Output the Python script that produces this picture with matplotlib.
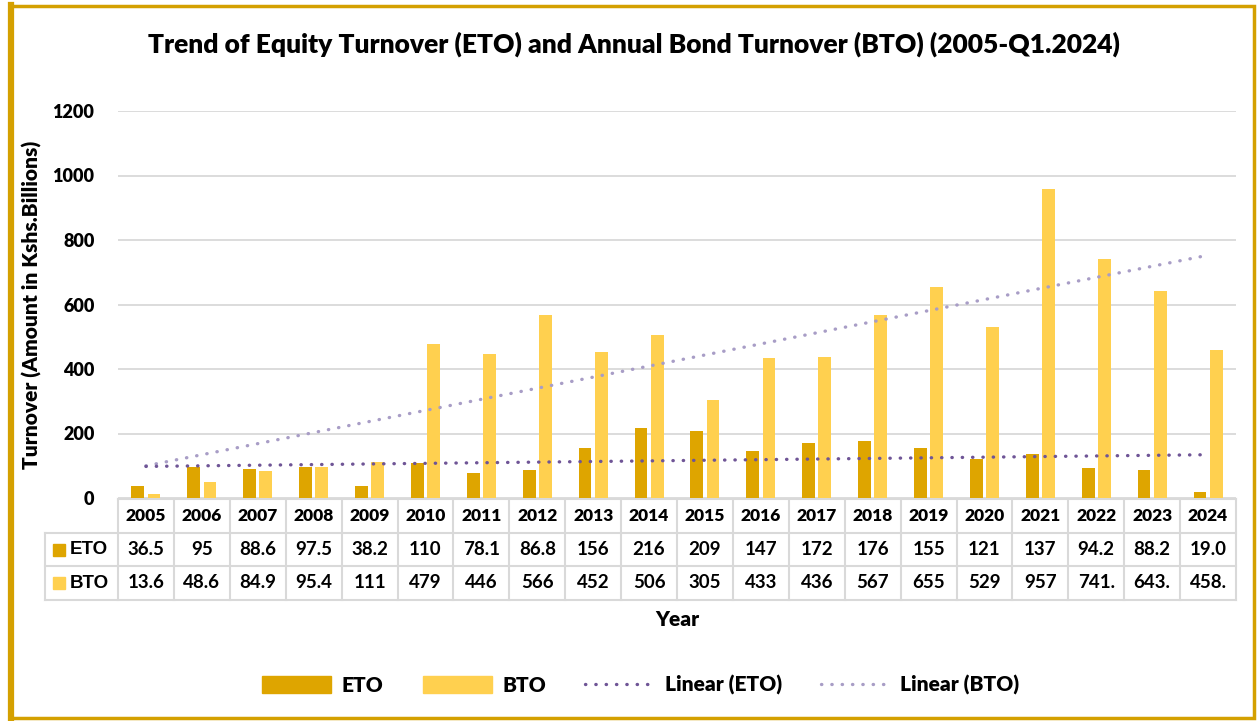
import numpy as np
import matplotlib.pyplot as plt
from matplotlib.patches import Rectangle, Patch
from matplotlib.lines import Line2D

years = ["2005", "2006", "2007", "2008", "2009", "2010", "2011", "2012", "2013", "2014",
         "2015", "2016", "2017", "2018", "2019", "2020", "2021", "2022", "2023", "2024"]
eto = [36.5, 95, 88.6, 97.5, 38.2, 110, 78.1, 86.8, 156, 216,
       209, 147, 172, 176, 155, 121, 137, 94.2, 88.2, 19.0]
bto = [13.6, 48.6, 84.9, 95.4, 111, 479, 446, 566, 452, 506,
       305, 433, 436, 567, 655, 529, 957, 741, 643, 458]
eto_labels = ["36.5", "95", "88.6", "97.5", "38.2", "110", "78.1", "86.8", "156", "216",
              "209", "147", "172", "176", "155", "121", "137", "94.2", "88.2", "19.0"]
bto_labels = ["13.6", "48.6", "84.9", "95.4", "111", "479", "446", "566", "452", "506",
              "305", "433", "436", "567", "655", "529", "957", "741.", "643.", "458."]

C_ETO = "#DEA500"
C_BTO = "#FFD04F"
C_LETO = "#6F5596"
C_LBTO = "#A89DC6"
GOLD = "#D4A000"
GRID = "#D9D9D9"

NUM_FONT = ["Lato", "DejaVu Sans"]

W, H = 1257, 721
fig = plt.figure(figsize=(W / 100, H / 100), dpi=100)

# plot area in pixels
L, R, T, B = 118, 1236, 111, 498
ax = fig.add_axes([L / W, 1 - B / H, (R - L) / W, (B - T) / H])

x = np.arange(len(years))
ax.bar(x - 0.145, eto, width=0.23, color=C_ETO, zorder=2)
ax.bar(x + 0.145, bto, width=0.23, color=C_BTO, zorder=2)

# linear trend lines
for vals, col in [(bto, C_LBTO), (eto, C_LETO)]:
    k, b0 = np.polyfit(x, vals, 1)
    ax.plot(x, k * x + b0, color=col, lw=2.4, ls=(0, (0.1, 3.0)),
            dash_capstyle="round", zorder=3)

ax.set_xlim(-0.5, len(years) - 0.5)
ax.set_ylim(0, 1200)
ax.set_yticks(range(0, 1201, 200))
ax.set_yticklabels([str(v) for v in range(0, 1201, 200)],
                   fontfamily=NUM_FONT, fontweight="heavy", fontsize=13)
ax.tick_params(axis="y", length=0, pad=17)
ax.set_xticks([])
ax.grid(axis="y", color=GRID, lw=1.3, zorder=0)
for s in ax.spines.values():
    s.set_visible(False)

# data table under the axis
colw = (R - L) / len(years)
def xd(px):
    return (px - L) / colw - 0.5
def yf(py):
    return (B - py) / (B - T)

tr = ax.get_xaxis_transform()
rows = [499, 533, 566, 600]
left = 45
lkw = dict(color=GRID, lw=1.5, transform=tr, clip_on=False, zorder=1)
# horizontal lines
ax.plot([-0.5, len(years) - 0.5], [yf(rows[0])] * 2, **lkw)
for r in rows[1:]:
    ax.plot([xd(left), len(years) - 0.5], [yf(r)] * 2, **lkw)
# vertical lines
for i in range(len(years) + 1):
    ax.plot([i - 0.5] * 2, [yf(rows[0]), yf(rows[3])], **lkw)
ax.plot([xd(left)] * 2, [yf(rows[1]), yf(rows[3])], **lkw)

for i, yr in enumerate(years):
    ax.text(i, yf((rows[0] + rows[1]) / 2), yr, transform=tr, ha="center", va="center",
            fontfamily=NUM_FONT, fontweight="heavy", fontsize=12.5)
    ax.text(i, yf((rows[1] + rows[2]) / 2), eto_labels[i], transform=tr, ha="center",
            va="center", fontfamily=NUM_FONT, fontweight="bold", fontsize=13.5)
    ax.text(i, yf((rows[2] + rows[3]) / 2), bto_labels[i], transform=tr, ha="center",
            va="center", fontfamily=NUM_FONT, fontweight="bold", fontsize=13.5)

for j, (name, col) in enumerate([("ETO", C_ETO), ("BTO", C_BTO)]):
    yc = (rows[j + 1] + rows[j + 2]) / 2
    fig.patches.append(Rectangle((53 / W, 1 - (yc + 6) / H), 12 / W, 12 / H,
                                 transform=fig.transFigure, color=col))
    fig.text(70 / W, 1 - yc / H, name, ha="left", va="center",
             fontfamily=["Liberation Sans", "DejaVu Sans"], fontweight="bold", fontsize=13.5)

# titles and labels
fig.text(634 / W, 1 - 44 / H,
         "Trend of Equity Turnover (ETO) and Annual Bond Turnover (BTO) (2005-Q1.2024)",
         ha="center", va="center", fontfamily=NUM_FONT, fontweight="heavy", fontsize=19)
fig.text(32 / W, 1 - 305 / H, "Turnover (Amount in Kshs.Billions)", rotation=90,
         ha="center", va="center", fontfamily=NUM_FONT, fontweight="heavy", fontsize=15)
fig.text(677 / W, 1 - 620 / H, "Year", ha="center", va="center",
         fontfamily=NUM_FONT, fontweight="heavy", fontsize=15)

handles = [Patch(color=C_ETO), Patch(color=C_BTO),
           Line2D([], [], color=C_LETO, lw=2.4, ls=(0, (0.1, 3.0)), dash_capstyle="round"),
           Line2D([], [], color=C_LBTO, lw=2.4, ls=(0, (0.1, 3.0)), dash_capstyle="round")]
fig.legend(handles, ["ETO", "BTO", "Linear (ETO)", "Linear (BTO)"],
           loc="center", bbox_to_anchor=(641 / W, 1 - 685 / H), ncol=4, frameon=False,
           prop=dict(family=NUM_FONT, weight="heavy", size=15),
           handlelength=3.3, handleheight=0.85, handletextpad=0.5, columnspacing=1.9)

# gold frame
fig.patches.append(Rectangle((10 / W, 1 - 718 / H), 1244 / W, 712 / H,
                             transform=fig.transFigure, fill=False, ec=GOLD, lw=2.5))
fig.lines.append(Line2D([10.5 / W, 10.5 / W], [1 - 718 / H, 1 - 5 / H],
                        transform=fig.transFigure, color=GOLD, lw=4.5))

fig.savefig("out.png", dpi=100)
